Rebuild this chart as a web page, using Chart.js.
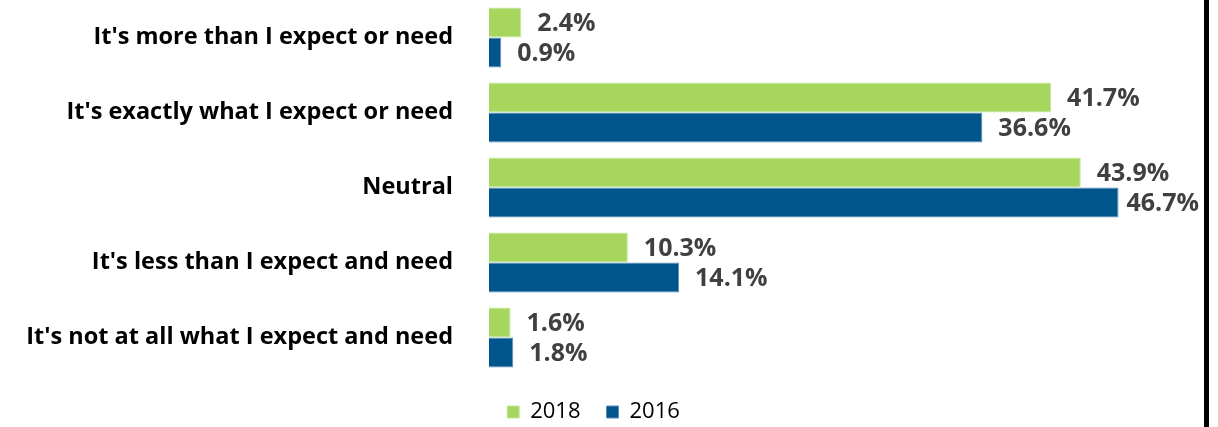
<!DOCTYPE html>
<html>
<head>
<meta charset="utf-8">
<script src="https://cdn.jsdelivr.net/npm/chart.js@4.4.1/dist/chart.umd.min.js"></script>
<style>
  body { margin: 0; background: #fff; }
  #wrap { position: relative; width: 1218px; height: 427px; }
</style>
</head>
<body>
<div id="wrap"><canvas id="satisfactionChart"></canvas></div>
<script>
const categories = [
    "It's more than I expect or need",
    "It's exactly what I expect or need",
    "Neutral",
    "It's less than I expect and need",
    "It's not at all what I expect and need"
];
const values2018 = [2.4, 41.7, 43.9, 10.3, 1.6];
const values2016 = [0.9, 36.6, 46.7, 14.1, 1.8];
const seriesLabels = ['2018', '2016'];

// value labels at the end of each bar, kept inside the frame
const valueLabels = {
    id: 'valueLabels',
    afterDatasetsDraw(chart) {
        const ctx = chart.ctx;
        ctx.save();
        ctx.font = 'bold 25px "Open Sans"';
        ctx.fillStyle = '#404040';
        ctx.textBaseline = 'middle';
        chart.data.datasets.forEach((ds, i) => {
            chart.getDatasetMeta(i).data.forEach((bar, j) => {
                const text = ds.data[j].toFixed(1) + '%';
                const w = ctx.measureText(text).width;
                const x = Math.min(bar.x + 16, 1199 - w);
                ctx.fillText(text, x, bar.y + 1);
            });
        });
        ctx.restore();
    }
};

// black frame line on the right
const frameLine = {
    id: 'frameLine',
    afterDraw(chart) {
        const ctx = chart.ctx;
        ctx.save();
        ctx.fillStyle = '#000';
        ctx.fillRect(1204, 0, 5, chart.height);
        ctx.restore();
    }
};

// fixed legend height so the bars keep their spacing
const legendHeight = {
    id: 'legendHeight',
    afterInit(chart) {
        const fit = chart.legend.fit;
        chart.legend.fit = function () {
            fit.call(this);
            this.height = 52;
        };
    }
};

const ctx = document.getElementById('satisfactionChart').getContext('2d');
new Chart(ctx, {
    type: 'bar',
    data: {
        labels: categories,
        datasets: [{
            label: seriesLabels[0],
            data: values2018,
            backgroundColor: '#a6d65e',
            borderColor: '#c4e79a',
            borderWidth: 1
        }, {
            label: seriesLabels[1],
            data: values2016,
            backgroundColor: '#00558c',
            borderColor: '#5a8fbb',
            borderWidth: 1
        }]
    },
    options: {
        indexAxis: 'y',
        responsive: true,
        maintainAspectRatio: false,
        animation: false,
        datasets: {
            bar: { categoryPercentage: 0.8, barPercentage: 1.0 }
        },
        layout: { padding: { left: 24, right: 55, top: 0, bottom: 0 } },
        scales: {
            x: {
                min: 0,
                max: 50,
                display: false
            },
            y: {
                grid: { display: false },
                border: { display: false },
                afterFit(scale) {
                    scale.width = 465;
                    scale.paddingTop = 0;
                    scale.paddingBottom = 0;
                },
                ticks: {
                    padding: 28,
                    color: '#000',
                    font: { family: 'Open Sans', size: 23.5, weight: 'bold' }
                }
            }
        },
        plugins: {
            legend: {
                position: 'bottom',
                labels: {
                    boxWidth: 12,
                    boxHeight: 12,
                    padding: 26,
                    color: '#000',
                    font: { family: 'Open Sans', size: 22 }
                }
            },
            tooltip: { enabled: false }
        }
    },
    plugins: [valueLabels, frameLine, legendHeight]
});
</script>
</body>
</html>
